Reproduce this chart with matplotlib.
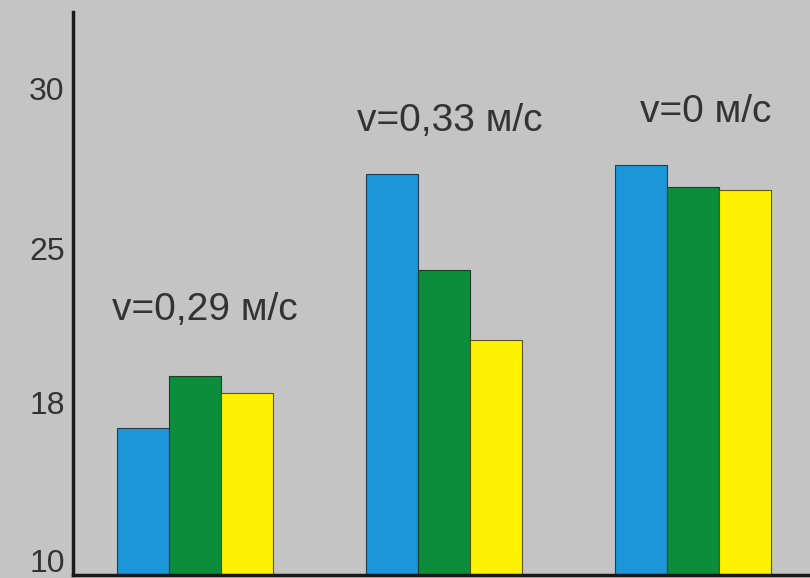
import numpy as np
import matplotlib
matplotlib.use('Agg')
import matplotlib.pyplot as plt

plt.rcParams['font.family'] = ['Liberation Sans', 'DejaVu Sans']

groups = ['v=0,29 м/с', 'v=0,33 м/с', 'v=0 м/с']
blue_vals = [16.7, 27.3, 27.6]
green_vals = [19.2, 24.0, 26.9]
yellow_vals = [18.4, 20.8, 26.8]
tick_vals = [10, 18, 25, 30]

# the original axis is drawn by hand: ticks are evenly spaced but not linear
scale_vals = [0, 10, 18, 25, 30, 35]
scale_pos = [-192, 18, 176, 330, 490, 650]


def forward(v):
    return np.interp(v, scale_vals, scale_pos)


def inverse(p):
    return np.interp(p, scale_pos, scale_vals)


bg = '#c4c4c4'
fig = plt.figure(figsize=(8.1, 5.78), dpi=100, facecolor=bg)
ax = fig.add_axes([73 / 810, 3 / 578, 1 - 73 / 810, 563 / 578])
ax.set_facecolor(bg)
ax.set_yscale('function', functions=(forward, inverse))

x = np.arange(len(groups))
w = 0.21
ax.bar(x - w, blue_vals, w, bottom=0, color='#1b96d8', edgecolor='#2a3a40', linewidth=0.8)
ax.bar(x, green_vals, w, bottom=0, color='#0b8d3c', edgecolor='#1f3a25', linewidth=0.8)
ax.bar(x + w, yellow_vals, w, bottom=0, color='#fff200', edgecolor='#5a5520', linewidth=0.8)

label_y = [22.2, 28.97, 29.25]
label_dx = [0.04, 0.025, 0.05]
for i, g in enumerate(groups):
    ax.text(x[i] + label_dx[i], label_y[i], g, ha='center', va='center',
            fontsize=28, color='#333333')

ax.set_xlim(-0.49, 2.47)
ax.set_ylim(inverse(3), inverse(566))
ax.set_yticks(tick_vals)
ax.set_yticklabels([str(t) for t in tick_vals], fontsize=23, color='#333333')
ax.tick_params(axis='y', length=0, pad=6)
ax.set_xticks([])
for s in ['top', 'right']:
    ax.spines[s].set_visible(False)
ax.spines['left'].set_linewidth(2.5)
ax.spines['bottom'].set_linewidth(2.5)
ax.spines['left'].set_color('#1a1a1a')
ax.spines['bottom'].set_color('#1a1a1a')

fig.savefig('out.png', dpi=100, facecolor=bg)
